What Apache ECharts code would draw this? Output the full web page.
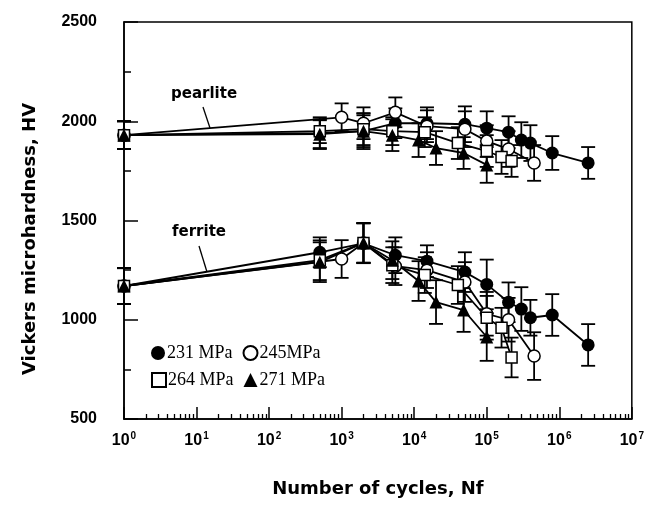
<!DOCTYPE html>
<html><head><meta charset="utf-8">
<script src="https://cdn.jsdelivr.net/npm/echarts@6/dist/echarts.min.js"></script>
<style>html,body{margin:0;padding:0;background:#fff}#c{width:647px;height:520px}</style>
</head><body><div id="c"></div>
<script>
// ---- data (cycles, hardness HV, error half-width) ----
const xTickValues = [1, 10, 100, 1000, 10000, 100000, 1000000, 10000000];
const yTickLabels = [500, 1000, 1500, 2000, 2500];

const N231 = [1, 500, 2000, 5500, 15000, 50000, 100000, 200000, 300000, 400000, 800000, 2500000];
const P231 = [1930, 1940, 1950, 1990, 1990, 1985, 1965, 1945, 1905, 1890, 1840, 1790];
const eP231 = [70, 80, 90, 75, 80, 90, 85, 80, 90, 90, 85, 80];
const F231 = [1170, 1340, 1385, 1325, 1295, 1240, 1178, 1088, 1054, 1010, 1024, 873];
const eF231 = [90, 75, 100, 90, 80, 100, 125, 100, 110, 90, 105, 105];

const N245 = [1, 1000, 2000, 5500, 15000, 50000, 100000, 200000, 450000];
const P245 = [1930, 2020, 1990, 2045, 1975, 1960, 1900, 1860, 1790];
const eP245 = [70, 70, 80, 75, 80, 90, 80, 90, 90];
const F245 = [1170, 1306, 1387, 1270, 1250, 1190, 1030, 1000, 817];
const eF245 = [90, 95, 100, 95, 90, 100, 110, 110, 120];

const N264 = [1, 500, 2000, 5000, 14000, 40000, 100000, 160000, 220000];
const P264 = [1930, 1950, 1960, 1950, 1945, 1890, 1850, 1820, 1800];
const eP264 = [70, 60, 80, 70, 75, 80, 80, 85, 80];
const F264 = [1170, 1300, 1387, 1275, 1225, 1175, 1010, 960, 810];
const eF264 = [90, 100, 100, 90, 90, 95, 110, 100, 100];

const N271 = [1, 500, 2000, 5000, 11500, 20000, 48000, 100000];
const P271 = [1930, 1935, 1950, 1930, 1905, 1865, 1840, 1780];
const eP271 = [70, 70, 80, 80, 85, 85, 80, 90];
const F271 = [1170, 1290, 1387, 1300, 1195, 1089, 1049, 913];
const eF271 = [90, 100, 100, 95, 100, 110, 110, 120];

// minor log ticks 2..9 per decade
const xMinorValues = [];
for (let d = 1; d < 1e7; d *= 10) for (let k = 2; k <= 9; k++) xMinorValues.push(d * k);

const pair = (xs, ys) => xs.map((x, i) => [x, ys[i]]);
const errs = (xs, ys, es) => xs.map((x, i) => [x, ys[i] - es[i], ys[i] + es[i]]);

function errRender(params, api) {
  const x = api.value(0), lo = api.value(1), hi = api.value(2);
  const p1 = api.coord([x, lo]), p2 = api.coord([x, hi]);
  const w = 7;
  const style = { stroke: '#000', lineWidth: 1.8, fill: null };
  return { type: 'group', children: [
    { type: 'line', shape: { x1: p1[0], y1: p1[1], x2: p2[0], y2: p2[1] }, style },
    { type: 'line', shape: { x1: p1[0] - w, y1: p1[1], x2: p1[0] + w, y2: p1[1] }, style },
    { type: 'line', shape: { x1: p2[0] - w, y1: p2[1], x2: p2[0] + w, y2: p2[1] }, style }
  ]};
}

const groups = [
  { name: '231 MPa', N: N231, P: P231, eP: eP231, F: F231, eF: eF231, symbol: 'circle', size: 13, fill: '#000' },
  { name: '245MPa', N: N245, P: P245, eP: eP245, F: F245, eF: eF245, symbol: 'circle', size: 12, fill: '#fff' },
  { name: '264 MPa', N: N264, P: P264, eP: eP264, F: F264, eF: eF264, symbol: 'rect', size: 11, fill: '#fff' },
  { name: '271 MPa', N: N271, P: P271, eP: eP271, F: F271, eF: eF271, symbol: 'triangle', size: 13, fill: '#000' }
];

const series = [];
groups.forEach(g => {
  [[g.P, g.eP], [g.F, g.eF]].forEach(([ys, es]) => {
    series.push({
      type: 'custom', name: g.name + ' err', renderItem: errRender,
      data: errs(g.N, ys, es), encode: { x: 0, y: [1, 2] }, z: 2, silent: true
    });
  });
});
groups.forEach(g => {
  [g.P, g.F].forEach(ys => {
    series.push({
      type: 'line', name: g.name, data: pair(g.N, ys),
      symbol: g.symbol, symbolSize: g.size, showAllSymbol: true,
      lineStyle: { color: '#000', width: 1.8 },
      itemStyle: { color: g.fill, borderColor: '#000', borderWidth: g.fill === '#fff' ? 1.5 : 0 },
      z: 3, animation: false
    });
  });
});

const sansB = 'Liberation Sans';
const wide = 'DejaVu Sans';
const legendText = { fontFamily: 'Liberation Serif', fontSize: 18, color: '#000', padding: [0, 0, 0, -3] };
const chart = echarts.init(document.getElementById('c'), null, { renderer: 'canvas' });
chart.setOption({
  animation: false,
  backgroundColor: '#fff',
  grid: { left: 124, right: 13, top: 22, bottom: 101, show: true, borderColor: '#000', borderWidth: 1.5 },
  legend: [
    { left: 146, top: 339, itemGap: 10, itemWidth: 14, itemHeight: 14, textStyle: legendText,
      data: [{ name: '231 MPa', icon: 'circle' }, { name: '245MPa', icon: 'circle' }] },
    { left: 146, top: 366, itemGap: 10, itemWidth: 14, itemHeight: 14, textStyle: legendText,
      data: [{ name: '264 MPa', icon: 'rect' }, { name: '271 MPa', icon: 'triangle' }] }
  ],
  xAxis: [
    { type: 'log', logBase: 10, min: 1, max: 1e7,
      name: 'Number of cycles, Nf', nameLocation: 'middle', nameGap: 61,
      nameTextStyle: { fontFamily: wide, fontWeight: 'bold', fontSize: 18, color: '#000' },
      axisLine: { show: true, lineStyle: { color: '#000', width: 1.5 } },
      axisTick: { show: true, inside: true, length: 12, lineStyle: { color: '#000', width: 1.5 }, customValues: xTickValues },
      axisLabel: { margin: 12, customValues: xTickValues,
        formatter: v => '{b|10}{s|' + Math.round(Math.log10(v)) + '}',
        rich: { b: { fontFamily: sansB, fontWeight: 'bold', fontSize: 16, color: '#000', verticalAlign: 'bottom' },
                s: { fontFamily: sansB, fontWeight: 'bold', fontSize: 10, color: '#000', verticalAlign: 'top', padding: [0, 0, 8, 1] } } },
      splitLine: { show: false }, minorSplitLine: { show: false } },
    { type: 'log', logBase: 10, min: 1, max: 1e7, position: 'bottom', gridIndex: 0,
      axisLine: { show: false }, axisLabel: { show: false }, splitLine: { show: false },
      axisTick: { show: true, inside: true, length: 5, lineStyle: { color: '#000', width: 1.3 }, customValues: xMinorValues } }
  ],
  yAxis: {
    type: 'value', min: 500, max: 2500, interval: 500,
    axisLine: { show: true, lineStyle: { color: '#000', width: 1.5 } },
    axisTick: { show: true, inside: true, length: 14, lineStyle: { color: '#000', width: 1.5 } },
    minorTick: { show: true, splitNumber: 2, length: 7, lineStyle: { color: '#000', width: 1.5 } },
    axisLabel: { margin: 27, fontFamily: sansB, fontWeight: 'bold', fontSize: 16, color: '#000',
      formatter: v => (yTickLabels.indexOf(v) >= 0 ? String(v) : '') },
    splitLine: { show: false }
  },
  graphic: [
    { type: 'text', x: 30, y: 239, rotation: Math.PI / 2,
      style: { text: 'Vickers microhardness, HV', fontFamily: wide, fontWeight: 'bold', fontSize: 18, fill: '#000', align: 'center', verticalAlign: 'middle' } },
    { type: 'text', left: 171, top: 87, style: { text: 'pearlite', fontFamily: wide, fontWeight: 'bold', fontSize: 15, fill: '#000' } },
    { type: 'line', shape: { x1: 203, y1: 107, x2: 210, y2: 128 }, style: { stroke: '#000', lineWidth: 1.3 } },
    { type: 'text', left: 172, top: 225, style: { text: 'ferrite', fontFamily: wide, fontWeight: 'bold', fontSize: 15, fill: '#000' } },
    { type: 'line', shape: { x1: 199, y1: 246, x2: 207, y2: 272 }, style: { stroke: '#000', lineWidth: 1.3 } }
  ],
  series
});
</script></body></html>
